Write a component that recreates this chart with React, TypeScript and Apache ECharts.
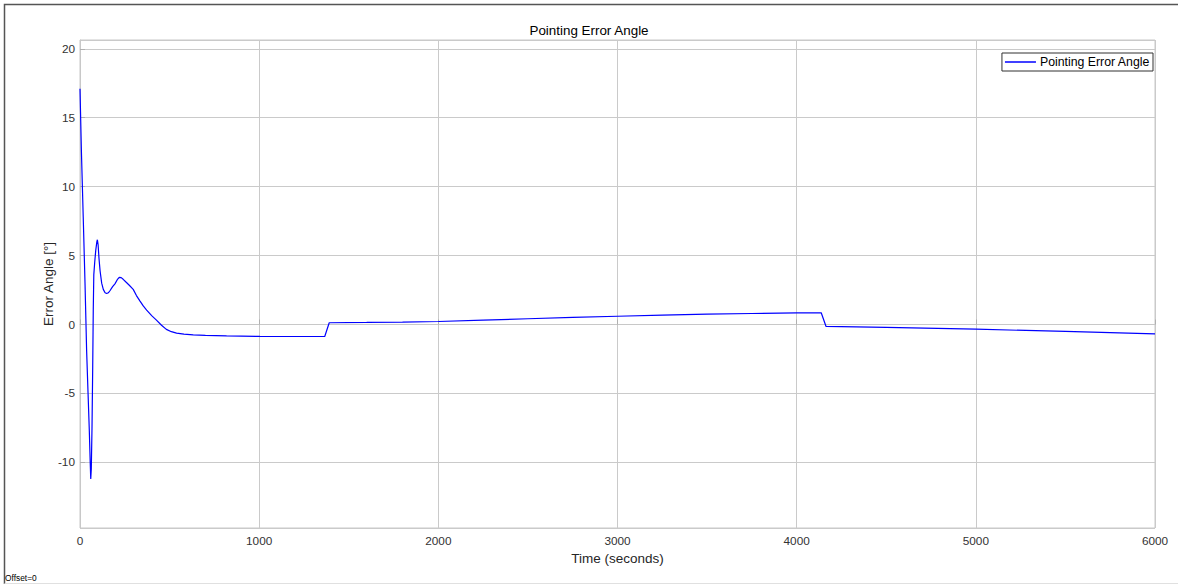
import React, { useEffect, useRef } from "react";
import * as echarts from "echarts";

const titleText = "Pointing Error Angle";
const seriesName = "Pointing Error Angle";
const xAxisName = "Time (seconds)";
const yAxisName = "Error Angle [°]";

const times = [
  0, 8, 18, 28, 37, 45, 52, 57, 60, 63, 67, 71, 74, 77, 82, 88, 94, 97, 101, 106,
  112, 121, 130, 140, 149, 158, 167, 182, 195, 208, 219, 230, 241, 255, 275, 297,
  315, 335, 353, 372, 400, 428, 455, 482, 510, 539, 580, 632, 700, 818, 1004, 1200,
  1366, 1391, 1600, 1800, 2000, 2250, 2500, 2750, 3000, 3250, 3500, 3750, 4000,
  4137, 4164, 4500, 5000, 5500, 6000,
];

const errorAngle = [
  17.1, 12.5, 7.8, 3.0, -1.9, -5.0, -7.7, -10.0, -11.2, -10.5, -7.5, -3.0, 1.0, 3.6,
  4.5, 5.4, 6.0, 6.15, 5.8, 4.8, 3.9, 3.0, 2.55, 2.3, 2.25, 2.3, 2.45, 2.75, 2.95,
  3.25, 3.42, 3.4, 3.28, 3.1, 2.85, 2.55, 2.1, 1.7, 1.35, 1.05, 0.65, 0.3, -0.05,
  -0.35, -0.52, -0.62, -0.7, -0.75, -0.79, -0.83, -0.86, -0.87, -0.87, 0.13, 0.15,
  0.18, 0.22, 0.32, 0.42, 0.52, 0.6, 0.68, 0.75, 0.8, 0.84, 0.85, -0.14, -0.2,
  -0.34, -0.5, -0.68,
];

const xMin = 0;
const xMax = 6000;
const xStep = 1000;
const yMin = -14.76;
const yMax = 20.64;
const yStep = 5;

const FONT = "'Liberation Sans', Arial, Helvetica, sans-serif";

export default function App() {
  const ref = useRef<HTMLDivElement>(null);

  useEffect(() => {
    if (!ref.current) return;
    const chart = echarts.init(ref.current, undefined, { renderer: "svg" });
    const data = times.map((t, i) => [t, errorAngle[i]]);
    chart.setOption({
      animation: false,
      backgroundColor: "#ffffff",
      textStyle: { fontFamily: FONT },
      title: {
        text: titleText,
        left: "center",
        top: 23.5,
        padding: 0,
        textStyle: { fontSize: 13.4, fontWeight: "normal", color: "#000", fontFamily: FONT },
      },
      legend: {
        right: 25,
        top: 53,
        orient: "horizontal",
        padding: [3, 3, 3, 3],
        borderColor: "#303030",
        borderWidth: 1,
        backgroundColor: "#fff",
        itemWidth: 31,
        itemHeight: 1.5,
        itemGap: 4,
        icon: "rect",
        textStyle: { fontSize: 12.3, color: "#000", fontFamily: FONT, padding: [0, 0, 0, -1] },
        data: [{ name: seriesName, icon: "rect" }],
      },
      grid: {
        left: 80,
        right: 23,
        top: 40,
        bottom: 56,
        show: true,
        borderColor: "#c8c8c8",
        borderWidth: 1,
        backgroundColor: "#fff",
      },
      xAxis: {
        type: "value",
        min: xMin,
        max: xMax,
        interval: xStep,
        name: xAxisName,
        nameLocation: "middle",
        nameGap: 23,
        nameMoveOverlap: false,
        nameTextStyle: { fontSize: 13.5, color: "#262626", fontFamily: FONT },
        axisLine: { show: true, lineStyle: { color: "#c8c8c8" } },
        axisTick: { show: true, inside: true, length: 5, lineStyle: { color: "#b0b0b0" } },
        axisLabel: {
          fontSize: 11.8,
          color: "#333",
          margin: 7,
          fontFamily: FONT,
          formatter: (v: number) => String(v),
        },
        splitLine: { show: true, lineStyle: { color: "#cacaca", width: 1 } },
      },
      yAxis: {
        type: "value",
        min: yMin,
        max: yMax,
        splitNumber: 7,
        minInterval: yStep,
        maxInterval: yStep,
        name: yAxisName,
        nameLocation: "middle",
        nameGap: 25,
        nameMoveOverlap: false,
        nameTextStyle: { fontSize: 13.5, color: "#262626", fontFamily: FONT },
        axisLine: { show: true, lineStyle: { color: "#c8c8c8" } },
        axisTick: { show: true, inside: true, length: 5, lineStyle: { color: "#b0b0b0" } },
        axisLabel: {
          fontSize: 11.8,
          color: "#333",
          margin: 5,
          fontFamily: FONT,
          showMinLabel: false,
          showMaxLabel: false,
          formatter: (v: number) => String(v),
        },
        splitLine: { show: true, lineStyle: { color: "#cacaca", width: 1 } },
      },
      series: [
        {
          name: seriesName,
          type: "line",
          data,
          showSymbol: false,
          symbol: "none",
          smooth: false,
          lineStyle: { color: "#0000ff", width: 1.2 },
          itemStyle: { color: "#0000ff" },
        },
      ],
      graphic: [
        {
          type: "polyline",
          silent: true,
          shape: { points: [[4.5, 584], [4.5, 4.5], [1178, 4.5]] },
          style: { stroke: "#555", lineWidth: 1.5, fill: "none" },
        },
        {
          type: "line",
          silent: true,
          shape: { x1: 4.5, y1: 583.5, x2: 1178, y2: 583.5 },
          style: { stroke: "#e0e0e0", lineWidth: 1 },
        },
        {
          type: "text",
          silent: true,
          left: 5,
          top: 574,
          style: { text: "Offset=0", fontSize: 8.4, fill: "#000", fontFamily: FONT },
        },
      ],
    });
    return () => chart.dispose();
  }, []);

  return (
    <div
      ref={ref}
      style={{ position: "fixed", left: 0, top: 0, width: 1178, height: 584 }}
    />
  );
}
